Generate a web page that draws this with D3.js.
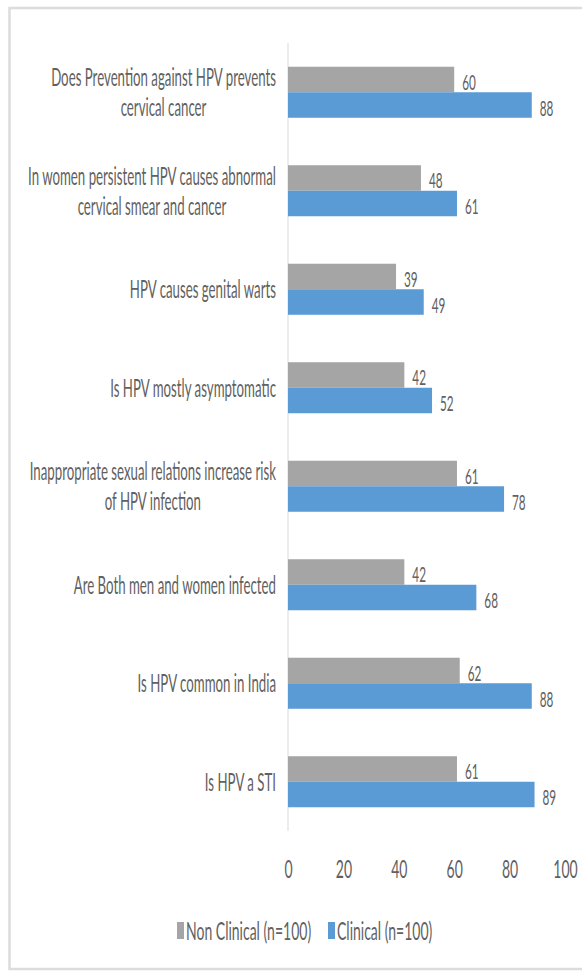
<!DOCTYPE html>
<html>
<head>
<meta charset="utf-8">
<script src="https://cdn.jsdelivr.net/npm/d3@7"></script>
<style>
  html, body { margin: 0; padding: 0; background: #fff; }
  svg { display: block; }
  text { font-family: Lato, "Open Sans", sans-serif; fill: #616161; }
</style>
</head>
<body>
<svg id="chart" width="582" height="972"></svg>
<script>
// Survey answers on HPV awareness, percent answering correctly
const categories = [
  ["Does Prevention against HPV prevents", "cervical cancer"],
  ["In women persistent HPV causes abnormal", "cervical smear and cancer"],
  ["HPV causes genital warts"],
  ["Is HPV mostly asymptomatic"],
  ["Inappropriate sexual relations increase risk", "of HPV infection"],
  ["Are Both men and women infected"],
  ["Is HPV common in India"],
  ["Is HPV a STI"]
];
const nonClinical = [60, 48, 39, 42, 61, 42, 62, 61];
const clinical = [88, 61, 49, 52, 78, 68, 88, 89];
const seriesNames = ["Non Clinical (n=100)", "Clinical (n=100)"];
const seriesColors = ["#A5A5A5", "#5B9BD5"];
const xTicks = [0, 20, 40, 60, 80, 100];

const svg = d3.select("#chart");
const SX = 0.56;      // horizontal squeeze of numbers and legend
const SX_CAT = 0.53;  // horizontal squeeze of category names

// frame around the chart area
svg.append("rect")
  .attr("x", 9.5).attr("y", 8)
  .attr("width", 600).attr("height", 961)
  .attr("fill", "none")
  .attr("stroke", "#dcdcdc")
  .attr("stroke-width", 2.5);

const plot = { left: 288, right: 565, top: 43, bottom: 831 };

const x = d3.scaleLinear().domain([0, 100]).range([plot.left, plot.right]);
const keys = categories.map((c, i) => i);
const y = d3.scaleBand().domain(keys).range([plot.top, plot.bottom])
  .paddingInner(0.482).paddingOuter(0.241);
const ySub = d3.scaleBand().domain([0, 1]).range([0, y.bandwidth()]);

const rows = keys.map(i => ({ i, values: [nonClinical[i], clinical[i]] }));

// vertical category axis line
svg.append("line")
  .attr("x1", x(0)).attr("x2", x(0))
  .attr("y1", plot.top).attr("y2", plot.bottom)
  .attr("stroke", "#d9d9d9").attr("stroke-width", 1);

// bars
const groups = svg.append("g").selectAll("g").data(rows).join("g")
  .attr("transform", d => `translate(0,${y(d.i)})`);

groups.selectAll("rect").data(d => d.values.map((v, s) => ({ v, s }))).join("rect")
  .attr("x", x(0))
  .attr("y", d => ySub(d.s))
  .attr("width", d => x(d.v) - x(0))
  .attr("height", ySub.bandwidth())
  .attr("fill", d => seriesColors[d.s]);

// value labels
groups.selectAll("text").data(d => d.values.map((v, s) => ({ v, s }))).join("text")
  .attr("transform", d => `translate(${x(d.v) + 8},${ySub(d.s) + ySub.bandwidth() / 2 + 10.5}) scale(${SX},1)`)
  .attr("font-size", 21)
  .text(d => d.v);

// category labels: block right-aligned, wrapped lines centred within it
const labelRight = 276;
const lineGap = 30;
const labels = svg.append("g");
rows.forEach(r => {
  const lines = categories[r.i];
  const cy = y(r.i) + y.bandwidth() / 2;
  const g = labels.append("g");
  const texts = lines.map(ln => g.append("text")
    .attr("font-size", 25)
    .attr("text-anchor", "middle")
    .text(ln));
  const w = d3.max(texts, t => t.node().getComputedTextLength()) * SX_CAT;
  const cx = labelRight - w / 2;
  texts.forEach((t, k) => {
    const by = cy - (lines.length - 1) * lineGap / 2 + k * lineGap + 9;
    t.attr("transform", `translate(${cx},${by}) scale(${SX_CAT},1)`);
  });
});

// bottom axis tick labels
const xAxis = d3.axisBottom(x).tickValues(xTicks).tickSize(0).tickPadding(0);
const ax = svg.append("g").attr("transform", `translate(0,878)`).call(xAxis);
ax.select(".domain").remove();
ax.attr("font-family", null).attr("font-size", null);
ax.selectAll("text")
  .attr("y", 0).attr("dy", 0)
  .attr("font-size", 25)
  .attr("fill", null)
  .attr("transform", `scale(${SX},1)`);

// legend
const legendItems = [
  { name: seriesNames[0], color: seriesColors[0], x: 177 },
  { name: seriesNames[1], color: seriesColors[1], x: 328 }
];
const legend = svg.append("g").selectAll("g").data(legendItems).join("g")
  .attr("transform", d => `translate(${d.x},922)`);
legend.append("rect").attr("width", 7).attr("height", 17).attr("fill", d => d.color);
legend.append("text")
  .attr("transform", `translate(9,18) scale(${SX},1)`)
  .attr("font-size", 25)
  .text(d => d.name);
</script>
</body>
</html>
